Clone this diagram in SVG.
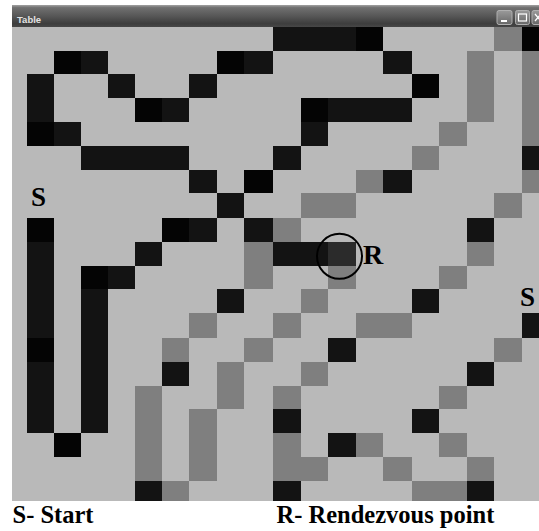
<svg xmlns="http://www.w3.org/2000/svg" width="539" height="531" viewBox="0 0 539 531">
<style>
.B{fill:#131313}.K{fill:#040404}.G{fill:#7f7f7f}.D{fill:#2b2b2b}
.lbl{font-family:"Liberation Serif","Times New Roman",serif;font-weight:bold;fill:#000}
.btn{fill:url(#bg);stroke:#b0b0b0;stroke-width:1}
</style>
<defs>
<linearGradient id="tb" x1="0" y1="0" x2="0" y2="1">
<stop offset="0" stop-color="#a2a2a2"/>
<stop offset="0.12" stop-color="#707070"/>
<stop offset="0.5" stop-color="#575757"/>
<stop offset="0.85" stop-color="#3d3d3d"/>
<stop offset="1" stop-color="#474747"/>
</linearGradient>
<linearGradient id="bg" x1="0" y1="0" x2="0" y2="1">
<stop offset="0" stop-color="#9a9a9a"/>
<stop offset="1" stop-color="#676767"/>
</linearGradient>
</defs>
<rect width="539" height="531" fill="#ffffff"/>
<g id="titlebar">
<rect x="12" y="5" width="527" height="22" fill="url(#tb)"/>
<text x="17" y="22.5" font-family="Liberation Sans,Arial,sans-serif" font-weight="bold" font-size="9.5" fill="#e2e2e2">Table</text>
<rect class="btn" x="497" y="10.5" width="15" height="14" rx="2"/>
<rect x="501" y="20" width="6" height="2" fill="#fff"/>
<rect class="btn" x="515.5" y="10.5" width="14" height="14" rx="2"/>
<rect x="518.5" y="14" width="8" height="7" fill="none" stroke="#fff" stroke-width="1.2"/>
<rect class="btn" x="532" y="10.5" width="14" height="14" rx="2"/>
<path d="M535 14 L541 21 M541 14 L535 21" stroke="#fff" stroke-width="1.3"/>
</g>
<g id="grid">
<rect x="12" y="27" width="527" height="474" fill="#b9b9b9"/>
<!-- row 0 -->
<rect class="B" x="273" y="27" width="28" height="24"/>
<rect class="B" x="301" y="27" width="27" height="24"/>
<rect class="B" x="328" y="27" width="28" height="24"/>
<rect class="K" x="356" y="27" width="27" height="24"/>
<rect class="G" x="494" y="27" width="28" height="24"/>
<rect class="K" x="522" y="27" width="17" height="24"/>
<!-- row 1 -->
<rect class="K" x="54" y="51" width="27" height="23"/>
<rect class="B" x="81" y="51" width="27" height="23"/>
<rect class="K" x="217" y="51" width="27" height="23"/>
<rect class="B" x="244" y="51" width="29" height="23"/>
<rect class="B" x="383" y="51" width="29" height="23"/>
<rect class="G" x="467" y="51" width="27" height="71"/>
<rect class="G" x="522" y="51" width="17" height="95"/>
<!-- row 2 -->
<rect class="B" x="27" y="74" width="27" height="24"/>
<rect class="B" x="108" y="74" width="27" height="24"/>
<rect class="B" x="189" y="74" width="28" height="24"/>
<rect class="K" x="412" y="74" width="27" height="24"/>
<!-- row 3 -->
<rect class="B" x="27" y="98" width="27" height="24"/>
<rect class="K" x="135" y="98" width="27" height="24"/>
<rect class="B" x="162" y="98" width="27" height="24"/>
<rect class="K" x="301" y="98" width="27" height="24"/>
<rect class="B" x="328" y="98" width="84" height="24"/>
<!-- row 4 -->
<rect class="K" x="27" y="122" width="27" height="24"/>
<rect class="B" x="54" y="122" width="27" height="24"/>
<rect class="B" x="301" y="122" width="27" height="24"/>
<rect class="G" x="439" y="122" width="28" height="24"/>
<!-- row 5 -->
<rect class="B" x="81" y="146" width="108" height="24"/>
<rect class="B" x="273" y="146" width="28" height="24"/>
<rect class="G" x="412" y="146" width="27" height="24"/>
<rect class="B" x="522" y="146" width="17" height="24"/>
<!-- row 6 -->
<rect class="B" x="189" y="170" width="28" height="23"/>
<rect class="K" x="244" y="170" width="29" height="23"/>
<rect class="G" x="356" y="170" width="27" height="23"/>
<rect class="B" x="383" y="170" width="29" height="23"/>
<rect class="G" x="522" y="170" width="17" height="23"/>
<!-- row 7 -->
<rect class="B" x="217" y="193" width="27" height="25"/>
<rect class="G" x="301" y="193" width="55" height="25"/>
<rect class="G" x="494" y="193" width="28" height="25"/>
<!-- row 8 -->
<rect class="K" x="27" y="218" width="27" height="24"/>
<rect class="K" x="162" y="218" width="27" height="24"/>
<rect class="B" x="189" y="218" width="28" height="24"/>
<rect class="B" x="244" y="218" width="29" height="24"/>
<rect class="G" x="273" y="218" width="28" height="24"/>
<rect class="B" x="467" y="218" width="27" height="24"/>
<!-- row 9 -->
<rect class="B" x="27" y="242" width="27" height="24"/>
<rect class="B" x="135" y="242" width="27" height="24"/>
<rect class="G" x="244" y="242" width="29" height="47"/>
<rect class="B" x="273" y="242" width="55" height="24"/>
<rect class="D" x="328" y="242" width="28" height="24"/>
<rect class="G" x="467" y="242" width="27" height="24"/>
<!-- row 10 -->
<rect class="B" x="27" y="266" width="27" height="23"/>
<rect class="K" x="81" y="266" width="27" height="23"/>
<rect class="B" x="108" y="266" width="27" height="23"/>
<rect class="G" x="328" y="266" width="28" height="23"/>
<rect class="G" x="439" y="266" width="28" height="23"/>
<!-- row 11 -->
<rect class="B" x="27" y="289" width="27" height="49"/>
<rect class="B" x="81" y="289" width="27" height="144"/>
<rect class="B" x="217" y="289" width="27" height="24"/>
<rect class="G" x="301" y="289" width="27" height="24"/>
<rect class="B" x="412" y="289" width="27" height="24"/>
<!-- row 12 -->
<rect class="G" x="189" y="313" width="28" height="25"/>
<rect class="G" x="273" y="313" width="28" height="25"/>
<rect class="G" x="356" y="313" width="56" height="25"/>
<rect class="B" x="522" y="313" width="17" height="25"/>
<!-- row 13 -->
<rect class="K" x="27" y="338" width="27" height="24"/>
<rect class="G" x="162" y="338" width="27" height="24"/>
<rect class="G" x="244" y="338" width="29" height="24"/>
<rect class="B" x="328" y="338" width="28" height="24"/>
<rect class="G" x="494" y="338" width="28" height="24"/>
<!-- row 14 -->
<rect class="B" x="27" y="362" width="27" height="71"/>
<rect class="B" x="162" y="362" width="27" height="24"/>
<rect class="G" x="217" y="362" width="27" height="47"/>
<rect class="G" x="301" y="362" width="27" height="24"/>
<rect class="B" x="467" y="362" width="27" height="24"/>
<!-- row 15 -->
<rect class="G" x="135" y="386" width="27" height="95"/>
<rect class="G" x="273" y="386" width="28" height="23"/>
<rect class="G" x="439" y="386" width="28" height="23"/>
<!-- row 16 -->
<rect class="G" x="189" y="409" width="28" height="72"/>
<rect class="B" x="273" y="409" width="28" height="24"/>
<rect class="B" x="412" y="409" width="27" height="24"/>
<!-- row 17 -->
<rect class="K" x="54" y="433" width="27" height="24"/>
<rect class="G" x="273" y="433" width="28" height="24"/>
<rect class="B" x="328" y="433" width="28" height="24"/>
<rect class="G" x="356" y="433" width="27" height="24"/>
<rect class="G" x="439" y="433" width="28" height="24"/>
<!-- row 18 -->
<rect class="G" x="273" y="457" width="55" height="24"/>
<rect class="G" x="383" y="457" width="29" height="24"/>
<rect class="G" x="467" y="457" width="27" height="24"/>
<!-- row 19 -->
<rect class="B" x="135" y="481" width="27" height="20"/>
<rect class="G" x="162" y="481" width="27" height="20"/>
<rect class="B" x="273" y="481" width="28" height="20"/>
<rect class="G" x="412" y="481" width="55" height="20"/>
<rect class="B" x="467" y="481" width="27" height="20"/>
</g>
<g id="marks">
<circle cx="339.5" cy="256.3" r="22.5" fill="none" stroke="#000" stroke-width="2"/>
<text class="lbl" x="31" y="206" font-size="27">S</text>
<text class="lbl" x="363" y="264" font-size="28">R</text>
<text class="lbl" x="520" y="306" font-size="27">S</text>
</g>
<g id="legend">
<text class="lbl" x="12.5" y="523" font-size="24.5">S- Start</text>
<text class="lbl" x="276.5" y="523" font-size="24.5">R- Rendezvous point</text>
</g>
</svg>
